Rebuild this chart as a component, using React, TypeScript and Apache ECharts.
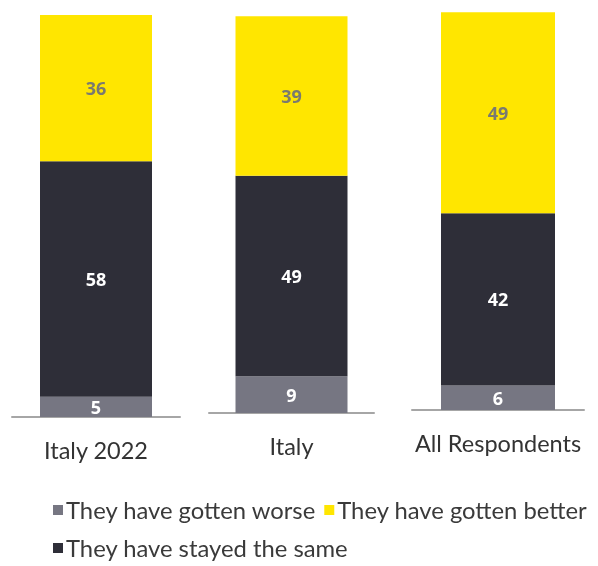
import React, { useEffect, useRef } from "react";
import * as echarts from "echarts";

const categories = ["Italy 2022", "Italy", "All Respondents"];
const worse = [5, 9, 6];
const same = [58, 49, 42];
const better = [36, 39, 49];

const COLORS = { worse: "#767682", same: "#2e2e38", better: "#ffe600" };
const NAMES = {
  worse: "They have gotten worse",
  same: "They have stayed the same",
  better: "They have gotten better",
};
const FONT = "Lato";
const LABEL_FONT = "Open Sans";

// layout per bar group
const grids = [
  { left: 12, width: 168, top: 11, height: 406 },
  { left: 209, width: 165, top: 4, height: 409 },
  { left: 412, width: 172, top: 0, height: 410 },
];

export default function App() {
  const ref = useRef<HTMLDivElement>(null);
  useEffect(() => {
    document.body.style.margin = "0";
    const chart = echarts.init(ref.current!, null, { renderer: "svg" });
    const series: any[] = [];
    categories.forEach((cat, i) => {
      const mk = (key: "worse" | "same" | "better", arr: number[], labelColor: string) => ({
        type: "bar",
        name: NAMES[key],
        stack: "s" + i,
        xAxisIndex: i,
        yAxisIndex: i,
        barWidth: i === 2 ? 114 : 112,
        data: [arr[i]],
        itemStyle: { color: COLORS[key] },
        label: {
          show: true,
          position: "inside",
          color: labelColor,
          fontFamily: LABEL_FONT,
          fontWeight: "bold",
          fontSize: 18,
        },
      });
      series.push(mk("worse", worse, "#ffffff"));
      series.push(mk("same", same, "#ffffff"));
      series.push(mk("better", better, "#7a7a70"));
    });
    const legendText = { color: "#3a3a3a", fontFamily: FONT, fontSize: 23.8, padding: [0, 0, 0, -2] };
    chart.setOption({
      animation: false,
      grid: grids.map((g) => ({ ...g, containLabel: false })),
      xAxis: categories.map((c, i) => ({
        type: "category",
        gridIndex: i,
        data: [c],
        axisLine: { show: true, lineStyle: { color: "#a6a6a6", width: 2 } },
        axisTick: { show: false },
        axisLabel: {
          color: "#333333",
          fontFamily: FONT,
          fontSize: 23.5,
          margin: 21,
          interval: 0,
        },
      })),
      yAxis: categories.map((c, i) => ({
        type: "value",
        gridIndex: i,
        min: 0,
        max: 100,
        show: false,
        splitLine: { show: false },
      })),
      legend: [
        {
          left: 48,
          top: 493,
          width: 800,
          orient: "horizontal",
          itemWidth: 10,
          itemHeight: 10,
          itemGap: 8,
          icon: "rect",
          data: [NAMES.worse, NAMES.better],
          textStyle: legendText,
        },
        {
          left: 48,
          top: 531,
          itemWidth: 10,
          itemHeight: 10,
          itemGap: 8,
          icon: "rect",
          data: [NAMES.same],
          textStyle: legendText,
        },
      ],
      series,
    });
    return () => chart.dispose();
  }, []);
  return (
    <div
      ref={ref}
      style={{ position: "fixed", left: 0, top: 0, width: 598, height: 566 }}
    />
  );
}
